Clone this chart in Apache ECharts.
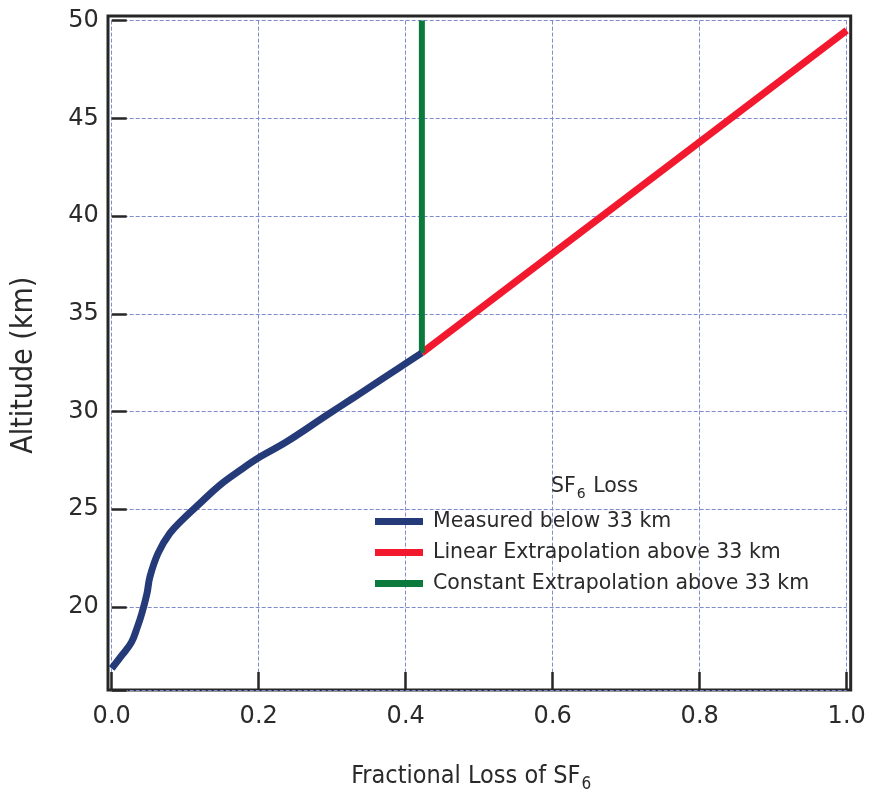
<!DOCTYPE html>
<html>
<head>
<meta charset="utf-8">
<script src="https://cdn.jsdelivr.net/npm/echarts@6/dist/echarts.min.js"></script>
<style>
  html, body { margin: 0; padding: 0; background: #fff; }
  #chart { width: 869px; height: 798px; }
</style>
</head>
<body>
<div id="chart"></div>
<script>
// SF6 loss vs altitude
var measuredX = [0.0, 0.014, 0.027, 0.035, 0.041, 0.048, 0.052, 0.063, 0.079, 0.098, 0.120, 0.147, 0.175, 0.202, 0.238, 0.293, 0.329, 0.365, 0.392, 0.422];
var measuredY = [16.85, 17.53, 18.2, 18.98, 19.67, 20.69, 21.54, 22.74, 23.76, 24.53, 25.3, 26.23, 27.0, 27.68, 28.45, 29.82, 30.7, 31.59, 32.26, 33.0];
var linearX = [0.422, 1.0];
var linearY = [33.0, 49.5];
var constantX = [0.422, 0.422];
var constantY = [33.0, 50];
var xTicks = [0, 0.2, 0.4, 0.6, 0.8, 1.0];
var yTicks = [20, 25, 30, 35, 40, 45, 50];

function pairs(xs, ys) {
  return xs.map(function (x, i) { return [x, ys[i]]; });
}

var chart = echarts.init(document.getElementById('chart'));
var font = 'DejaVu Sans';
var condensed = 'DejaVu Sans Condensed';
var ink = '#2a2a2a';
var gridLine = { show: true, lineStyle: { color: '#7f8ccc', type: [4, 2], width: 1 } };

var option = {
  animation: false,
  backgroundColor: '#fff',
  title: {
    left: 546, top: 468,
    text: '{n|SF}{s|6}{n| Loss}',
    textStyle: {
      fontWeight: 'normal',
      rich: {
        n: { fontFamily: font, fontSize: 20.5, fontWeight: 'normal', color: ink },
        s: { fontFamily: font, fontSize: 14, fontWeight: 'normal', color: ink, padding: [14, 1, 0, 1] }
      }
    }
  },
  legend: {
    orient: 'vertical',
    left: 370, top: 506,
    icon: 'rect',
    itemWidth: 48, itemHeight: 7, itemGap: 10,
    textStyle: { fontFamily: font, fontSize: 20.5, color: ink, padding: [0, 0, 0, 5] },
    data: ['Measured below 33 km', 'Linear Extrapolation above 33 km', 'Constant Extrapolation above 33 km']
  },
  grid: [
    { left: 111.7, right: 869 - 846.7, top: 20.6, bottom: 798 - 690 },
    { left: 108, right: 869 - 850.7, top: 16, bottom: 798 - 690, show: true,
      borderColor: '#262626', borderWidth: 3, backgroundColor: 'transparent' }
  ],
  xAxis: [{
    gridIndex: 0, type: 'value', min: 0, max: 1, interval: 0.2,
    axisLine: { show: false },
    axisTick: { show: true, inside: true, length: 18, lineStyle: { color: '#262626', width: 2.5 } },
    axisLabel: { margin: 15, fontFamily: font, fontSize: 24, color: ink,
      formatter: function (v) { return v.toFixed(1); } },
    splitLine: gridLine,
    name: '{n|Fractional Loss of SF}{s|6}',
    nameLocation: 'middle', nameGap: 70,
    nameTextStyle: {
      padding: [0, 16, 0, 0],
      rich: {
        n: { fontFamily: condensed, fontSize: 25, color: ink },
        s: { fontFamily: condensed, fontSize: 17, color: ink, padding: [16, 0, 0, 1] }
      }
    }
  }, {
    gridIndex: 1, type: 'value', show: false, min: 0, max: 1
  }],
  yAxis: [{
    gridIndex: 0, type: 'value', min: 15.75, max: 50, splitNumber: 7,
    axisLine: { show: false },
    axisTick: { show: true, inside: true, length: 15, lineStyle: { color: '#262626', width: 2.5 } },
    axisLabel: { margin: 13, fontFamily: font, fontSize: 24, color: ink,
      formatter: function (v) { return yTicks.indexOf(v) >= 0 ? String(v) : ''; } },
    splitLine: gridLine,
    name: 'Altitude (km)',
    nameLocation: 'middle', nameGap: 72,
    nameTextStyle: { fontFamily: condensed, fontSize: 30, color: ink, padding: [0, 20, 0, 0] }
  }, {
    gridIndex: 1, type: 'value', show: false, min: 0, max: 1
  }],
  series: [{
    name: 'Measured below 33 km',
    type: 'line', smooth: 0.4, showSymbol: false, z: 3,
    color: '#253a78', lineStyle: { width: 7, color: '#253a78' },
    data: pairs(measuredX, measuredY)
  }, {
    name: 'Linear Extrapolation above 33 km',
    type: 'line', showSymbol: false, z: 2,
    color: '#f2182e', lineStyle: { width: 7, color: '#f2182e' },
    data: pairs(linearX, linearY)
  }, {
    name: 'Constant Extrapolation above 33 km',
    type: 'line', showSymbol: false, z: 2,
    color: '#0c7a3c', lineStyle: { width: 6, color: '#0c7a3c' },
    data: pairs(constantX, constantY)
  }]
};

chart.setOption(option);
</script>
</body>
</html>
